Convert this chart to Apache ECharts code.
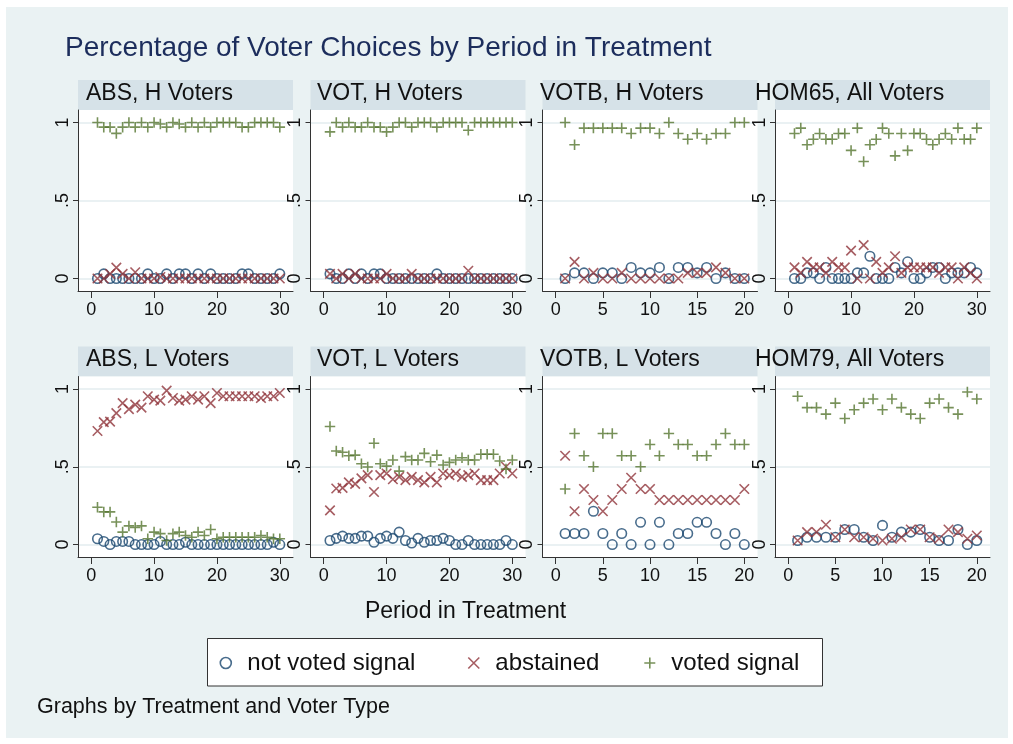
<!DOCTYPE html>
<html><head><meta charset="utf-8">
<script src="https://cdn.jsdelivr.net/npm/echarts@6/dist/echarts.min.js"></script>
<style>html,body{margin:0;padding:0;background:#fff}#c{width:1013px;height:744px}</style>
</head><body><div id="c"></div><script>
// ---------- data ----------
const panelTitles = ['ABS, H Voters','VOT, H Voters','VOTB, H Voters','HOM65, All Voters',
                     'ABS, L Voters','VOT, L Voters','VOTB, L Voters','HOM79, All Voters'];
const seriesNames = ['not voted signal','abstained','voted signal'];
const periods30 = [1,2,3,4,5,6,7,8,9,10,11,12,13,14,15,16,17,18,19,20,21,22,23,24,25,26,27,28,29,30];
const periods20 = [1,2,3,4,5,6,7,8,9,10,11,12,13,14,15,16,17,18,19,20];
const xTicks30 = [0,10,20,30];
const xTicks20 = [0,5,10,15,20];
const yTicks = [0,0.5,1];
const yTickLabels = ['0','.5','1'];

// ABS, H Voters
const absH_notVoted  = [0,0.03,0,0,0,0,0,0,0.03,0,0,0.03,0,0.03,0.03,0,0.03,0,0.03,0,0,0,0,0.03,0.03,0,0,0,0,0.03];
const absH_abstained = [0,0,0.03,0.07,0.03,0,0.04,0,0,0,0.01,0,0,0,0,0,0,0,0,0,0,0,0,0,0,0,0,0,0,0];
const absH_voted     = [1.00,0.97,0.97,0.93,0.97,1.00,0.97,1.00,0.97,1.00,0.99,0.97,1.00,0.99,0.97,1.00,0.97,1.00,0.97,1.00,1.00,1.00,1.00,0.97,0.97,1.00,1.00,1.00,1.00,0.97];
// VOT, H Voters
const votH_notVoted  = [0.03,0,0,0.03,0,0.03,0,0.03,0.03,0,0,0,0,0,0,0,0,0.03,0,0,0,0,0,0,0,0,0,0,0,0];
const votH_abstained = [0.03,0,0.03,0,0.03,0,0,0,0,0.03,0,0,0,0.03,0,0,0,0,0,0,0,0,0.05,0,0,0,0,0,0,0];
const votH_voted     = [0.94,1.00,0.97,1.00,0.97,0.97,1.00,0.97,0.97,0.94,0.97,1.00,1.00,0.97,1.00,1.00,1.00,0.97,1.00,1.00,1.00,1.00,0.95,1.00,1.00,1.00,1.00,1.00,1.00,1.00];
// VOTB, H Voters
const votbH_notVoted  = [0,0.036,0.036,0,0.036,0.036,0,0.071,0.036,0.036,0.071,0,0.071,0.071,0.036,0.071,0,0.036,0,0];
const votbH_abstained = [0,0.107,0,0.036,0,0,0.036,0,0,0,0,0,0,0.036,0.036,0.036,0.071,0.036,0,0];
const votbH_voted     = [1.00,0.857,0.964,0.964,0.964,0.964,0.964,0.929,0.964,0.964,0.929,1.00,0.929,0.893,0.929,0.893,0.929,0.929,1.00,1.00];
// HOM65, All Voters
const hom65_notVoted  = [0,0,0.036,0.036,0,0.071,0,0,0,0,0.036,0.036,0.143,0,0,0,0.071,0.036,0.107,0,0,0.036,0.071,0.071,0,0.036,0.036,0.036,0.071,0.036];
const hom65_abstained = [0.071,0.036,0.107,0.071,0.071,0.036,0.107,0.071,0.071,0.179,0,0.214,0,0.107,0.036,0.071,0.143,0.036,0.071,0.071,0.071,0.071,0.071,0.036,0.071,0.071,0,0.071,0.036,0];
const hom65_voted     = [0.929,0.964,0.857,0.893,0.929,0.893,0.893,0.929,0.929,0.821,0.964,0.75,0.857,0.893,0.964,0.929,0.786,0.929,0.821,0.929,0.929,0.893,0.857,0.893,0.929,0.893,0.964,0.893,0.893,0.964];
// ABS, L Voters
const absL_notVoted  = [0.037,0.02,0,0.02,0.02,0.02,0,0,0,0,0.02,0,0,0,0.015,0,0,0,0,0,0,0,0,0,0,0,0,0,0.015,0];
const absL_abstained = [0.73,0.787,0.79,0.845,0.909,0.87,0.899,0.88,0.953,0.931,0.925,0.989,0.942,0.925,0.931,0.953,0.931,0.953,0.909,0.974,0.953,0.953,0.953,0.953,0.953,0.953,0.942,0.953,0.953,0.974];
const absL_voted     = [0.24,0.21,0.21,0.145,0.08,0.12,0.11,0.12,0.037,0.08,0.07,0.026,0.07,0.08,0.058,0.047,0.08,0.058,0.097,0.037,0.047,0.047,0.047,0.047,0.047,0.047,0.058,0.047,0.037,0.037];
// VOT, L Voters
const votL_notVoted  = [0.026,0.04,0.054,0.04,0.04,0.054,0.054,0.015,0.04,0.054,0.04,0.08,0.026,0.01,0.04,0.015,0.026,0.026,0.04,0.026,0,0,0.026,0,0,0,0,0,0.026,0];
const votL_abstained = [0.22,0.36,0.364,0.40,0.39,0.425,0.446,0.338,0.446,0.457,0.42,0.435,0.414,0.435,0.414,0.40,0.435,0.40,0.457,0.446,0.457,0.435,0.446,0.457,0.414,0.414,0.414,0.457,0.50,0.457];
const votL_voted     = [0.759,0.601,0.593,0.571,0.575,0.519,0.498,0.651,0.519,0.504,0.543,0.472,0.565,0.543,0.543,0.586,0.532,0.575,0.511,0.528,0.543,0.558,0.543,0.543,0.580,0.580,0.580,0.537,0.485,0.543];
// VOTB, L Voters
const votbL_notVoted  = [0.071,0.071,0.071,0.214,0.071,0,0.071,0,0.143,0,0.143,0,0.071,0.071,0.143,0.143,0.071,0,0.071,0];
const votbL_abstained = [0.571,0.214,0.357,0.286,0.214,0.286,0.357,0.429,0.357,0.357,0.286,0.286,0.286,0.286,0.286,0.286,0.286,0.286,0.286,0.357];
const votbL_voted     = [0.357,0.714,0.571,0.5,0.714,0.714,0.571,0.571,0.5,0.643,0.571,0.714,0.643,0.643,0.571,0.571,0.643,0.714,0.643,0.643];
// HOM79, All Voters
const hom79_notVoted  = [0.026,0.047,0.047,0.047,0.047,0.097,0.097,0.047,0.026,0.123,0.047,0.08,0.08,0.097,0.047,0.026,0.026,0.097,0,0.026];
const hom79_abstained = [0.026,0.08,0.08,0.127,0.047,0.097,0.047,0.047,0.037,0.026,0.037,0.047,0.097,0.097,0.047,0.037,0.097,0.08,0.037,0.058];
const hom79_voted     = [0.953,0.88,0.88,0.838,0.909,0.81,0.866,0.909,0.935,0.866,0.935,0.88,0.838,0.81,0.909,0.935,0.88,0.838,0.98,0.935];

// ---------- assembly ----------
const panels = [
  {p: periods30, t: xTicks30, d: [absH_notVoted, absH_abstained, absH_voted]},
  {p: periods30, t: xTicks30, d: [votH_notVoted, votH_abstained, votH_voted]},
  {p: periods20, t: xTicks20, d: [votbH_notVoted, votbH_abstained, votbH_voted]},
  {p: periods30, t: xTicks30, d: [hom65_notVoted, hom65_abstained, hom65_voted]},
  {p: periods30, t: xTicks30, d: [absL_notVoted, absL_abstained, absL_voted]},
  {p: periods30, t: xTicks30, d: [votL_notVoted, votL_abstained, votL_voted]},
  {p: periods20, t: xTicks20, d: [votbL_notVoted, votbL_abstained, votbL_voted]},
  {p: periods20, t: xTicks20, d: [hom79_notVoted, hom79_abstained, hom79_voted]}
];

const FONT = '"Liberation Sans", Arial, sans-serif';
const NAVY = '#1a476f', MAROON = '#90353b', GREEN = '#55752f';
const colors = [NAVY, MAROON, GREEN];
const SYM_X = 'path://M0,0L10,10M10,0L0,10';
const SYM_PLUS = 'path://M5,0L5,10M0,5L10,5';
const symbols = ['circle', SYM_X, SYM_PLUS];
const symSizes = [9.5, 9.5, 10.5];

const colLeft = [78, 310.5, 542.5, 775];
const colTextX = [86, 317, 540, 755];
const rowTop = [110, 376.5];
const rowH = [181, 180.5];
const PW = 215, HEADER_H = 30;

const grids = [], xAxes = [], yAxes = [], series = [], graphics = [];

graphics.push({type:'rect', z:-10, silent:true, shape:{x:6, y:7, width:1002, height:731}, style:{fill:'#eaf2f3'}});

panels.forEach((pn, i) => {
  const c = i % 4, r = Math.floor(i / 4);
  grids.push({left: colLeft[c], top: rowTop[r], width: PW, height: rowH[r], show: true,
              backgroundColor: '#ffffff', borderWidth: 0, containLabel: false, outerBoundsMode: 'none'});
  const span = pn.t[pn.t.length - 1];
  const pad = span * 0.07;
  xAxes.push({type:'value', gridIndex:i, min: -pad, max: span + pad,
    axisLine:{show:true, onZero:false, lineStyle:{color:'#333', width:1}},
    axisTick:{show:true, length:7, customValues: pn.t, lineStyle:{color:'#333', width:1}},
    axisLabel:{show:true, customValues: pn.t, fontSize:18, fontFamily:FONT, color:'#111', margin:10},
    splitLine:{show:false}});
  yAxes.push({type:'value', gridIndex:i, min:-0.08, max:1.08,
    axisLine:{show:true, onZero:false, lineStyle:{color:'#333', width:1}},
    axisTick:{show:true, length:5, customValues: yTicks, lineStyle:{color:'#333', width:1}},
    axisLabel:{show:true, customValues: yTicks, rotate:90, fontSize:18, fontFamily:FONT, color:'#111', margin:6,
      formatter: v => yTickLabels[yTicks.indexOf(v)]},
    splitLine:{show:true, lineStyle:{color:'#e3ecef', width:1.5}}});
  pn.d.forEach((vals, k) => {
    series.push({type:'scatter', name: seriesNames[k], xAxisIndex:i, yAxisIndex:i,
      symbol: symbols[k], symbolSize: symSizes[k], silent:true,
      itemStyle:{color:'rgba(0,0,0,0)', borderColor: colors[k], borderWidth: 1.6},
      data: pn.p.map((p, j) => [p, vals[j]])});
  });
  // header band
  graphics.push({type:'rect', z:-5, silent:true,
    shape:{x: colLeft[c], y: rowTop[r] - HEADER_H, width: PW, height: HEADER_H}, style:{fill:'#d6e2e8'}});
  graphics.push({type:'text', z:10, silent:true, x: colTextX[c], y: rowTop[r] - HEADER_H/2 - 1.5,
    style:{text: panelTitles[i], font: '23px ' + FONT, fill:'#111', textAlign:'left', verticalAlign:'middle'}});
});

// titles and notes
graphics.push({type:'text', z:10, silent:true, x:65, y:48.5,
  style:{text:'Percentage of Voter Choices by Period in Treatment', font:'28px ' + FONT, fill:'#1c2d5c', textAlign:'left', verticalAlign:'middle'}});
graphics.push({type:'text', z:10, silent:true, x:465.5, y:612,
  style:{text:'Period in Treatment', font:'23px ' + FONT, fill:'#111', textAlign:'center', verticalAlign:'middle'}});
graphics.push({type:'text', z:10, silent:true, x:37, y:707,
  style:{text:'Graphs by Treatment and Voter Type', font:'21.5px ' + FONT, fill:'#111', textAlign:'left', verticalAlign:'middle'}});
// legend box
graphics.push({type:'rect', z:-5, silent:true, shape:{x:207.5, y:638.5, width:615, height:47.5},
  style:{fill:'#ffffff', stroke:'#333', lineWidth:1}});

const legendLefts = [219.5, 467.5, 643.5];
const legends = seriesNames.map((nm, k) => ({
  show:true, left: legendLefts[k], top: 651, padding:0, itemWidth:11, itemHeight:11, selectedMode:false,
  data:[{name:nm, icon: symbols[k], itemStyle:{color:'rgba(0,0,0,0)', borderColor: colors[k], borderWidth:1.6}}],
  textStyle:{fontSize:24, fontFamily:FONT, color:'#111', padding:[0,0,0,11]}
}));

const chart = echarts.init(document.getElementById('c'), null, {renderer:'canvas', width:1013, height:744});
chart.setOption({
  backgroundColor:'#ffffff',
  animation:false,
  grid: grids, xAxis: xAxes, yAxis: yAxes, series: series,
  legend: legends,
  graphic: {elements: graphics}
});
</script></body></html>
